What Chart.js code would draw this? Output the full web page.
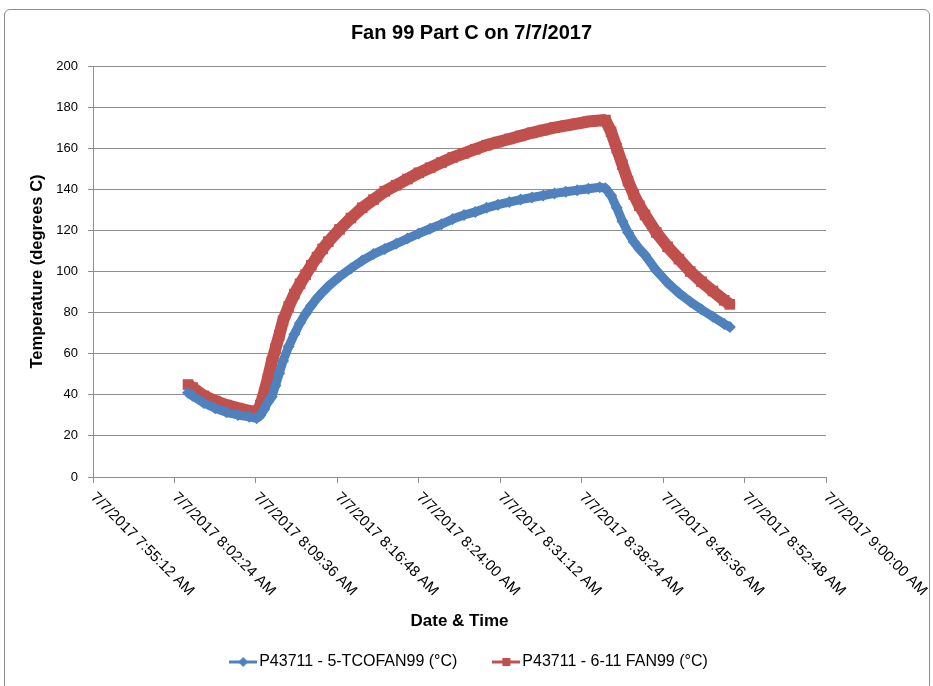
<!DOCTYPE html>
<html>
<head>
<meta charset="utf-8">
<script src="https://cdn.jsdelivr.net/npm/chart.js@4"></script>
<style>
  body { margin: 0; background: #fff; }
  #wrap { position: relative; width: 933px; height: 686px; overflow: hidden; }
  #frame { position: absolute; left: 4px; top: 9px; width: 924px; height: 680px; border: 1px solid #8c8c8c; border-radius: 6px; pointer-events: none; }
</style>
</head>
<body>
<div id="wrap">
  <canvas id="chart" width="933" height="686"></canvas>
  <div id="frame"></div>
</div>
<script>
// readings
const times = ['8:03:36','8:04:00','8:05:00','8:06:00','8:07:00','8:08:00','8:09:00','8:09:40',
  '8:10:00','8:10:20','8:10:40','8:11:00','8:11:20','8:11:40','8:12:00','8:12:30','8:13:00','8:13:30',
  '8:14:00','8:14:30','8:15:00','8:15:30','8:16:00','8:17:00','8:18:00','8:19:00','8:20:00','8:21:00',
  '8:22:00','8:23:00','8:24:00','8:25:00','8:26:00','8:27:00','8:28:00','8:29:00','8:30:00','8:31:00',
  '8:32:00','8:33:00','8:34:00','8:35:00','8:36:00','8:37:00','8:38:00','8:39:00','8:40:00','8:40:30',
  '8:41:00','8:41:30','8:42:00','8:42:30','8:43:00','8:43:30','8:44:00','8:45:00','8:46:00','8:47:00',
  '8:48:00','8:49:00','8:50:00','8:51:00','8:51:30'];

const tcoFan99 = [41, 39.5, 36, 33.5, 31.5, 30.2, 29.3, 28.6,
  30, 33, 36.5, 39, 44.5, 50.5, 56.5, 63.5, 69.5, 75,
  79.5, 83.5, 87, 90, 92.8, 97.5, 101.5, 105.3, 108.5, 111,
  113.5, 116, 118.5, 120.8, 123, 125.5, 127.5, 129, 131, 132.5,
  133.8, 135, 136, 137, 138, 138.8, 139.5, 140.3, 141, 140.5,
  137, 131, 124.5, 119, 114.5, 111, 108, 100.5, 94.5, 89.5,
  85.3, 81.5, 78, 74.5, 73];

const fan99_611 = [45, 43.5, 39.5, 37, 35, 33.5, 32.2, 31.3,
  35, 41, 48, 56, 62.5, 69, 76, 83, 89, 94,
  98.5, 103, 107, 111, 114.5, 120.5, 126, 131, 135, 139,
  142, 145, 148, 150.5, 153, 155.5, 157.5, 159.5, 161.5, 163,
  164.5, 166, 167.5, 168.8, 170, 171, 172, 173, 173.5, 173.7,
  168, 160, 152, 144, 137.5, 132, 127.5, 119, 112, 106,
  100, 95, 90.5, 86, 84];

const seriesNames = ['P43711 - 5-TCOFAN99 (°C)', 'P43711 - 6-11 FAN99 (°C)'];
const xMin = '7:55:12', xMax = '9:00:00', xStep = 432; // 7:12 between ticks
const yTicks = [0, 20, 40, 60, 80, 100, 120, 140, 160, 180, 200];

const BLUE = '#4F81BD', RED = '#C0504D', GRID = '#8e8e8e';
const FONT = "'Liberation Sans', Arial, sans-serif";

function toSec(t) {
  const p = t.split(':').map(Number);
  return p[0] * 3600 + p[1] * 60 + p[2];
}
function fmtTime(s) {
  const h = Math.floor(s / 3600), m = Math.floor(s / 60) % 60, sec = s % 60;
  const hh = h % 12 === 0 ? 12 : h % 12;
  return '7/7/2017 ' + hh + ':' + String(m).padStart(2, '0') + ':' + String(sec).padStart(2, '0') + (h < 12 ? ' AM' : ' PM');
}

// little line+marker images for the legend
function legendIcon(color, shape) {
  const c = document.createElement('canvas');
  c.width = 28; c.height = 12;
  const g = c.getContext('2d');
  g.strokeStyle = color; g.lineWidth = 3;
  g.beginPath(); g.moveTo(0, 6); g.lineTo(28, 6); g.stroke();
  g.fillStyle = color;
  if (shape === 'square') {
    g.fillRect(10, 2, 8, 8);
  } else {
    g.beginPath(); g.moveTo(14, 1); g.lineTo(19, 6); g.lineTo(14, 11); g.lineTo(9, 6); g.closePath(); g.fill();
  }
  return c;
}
const icons = [legendIcon(BLUE, 'diamond'), legendIcon(RED, 'square')];

const xTickLabels = {
  id: 'xTickLabels',
  afterDraw(chart) {
    const sc = chart.scales.x, ctx = chart.ctx;
    ctx.save();
    ctx.font = '15px ' + FONT;
    ctx.fillStyle = '#000';
    ctx.textAlign = 'left';
    ctx.textBaseline = 'middle';
    sc.ticks.forEach(t => {
      const px = sc.getPixelForValue(t.value);
      ctx.save();
      ctx.translate(px, chart.chartArea.bottom + 18);
      ctx.rotate(Math.PI / 4);
      ctx.fillText(fmtTime(t.value), 0, 0);
      ctx.restore();
    });
    ctx.restore();
  }
};

new Chart(document.getElementById('chart').getContext('2d'), {
  type: 'line',
  data: {
    datasets: [{
      label: seriesNames[0],
      data: times.map((t, i) => ({ x: toSec(t), y: tcoFan99[i] })),
      borderColor: BLUE,
      backgroundColor: BLUE,
      borderWidth: 9,
      borderJoinStyle: 'bevel',
      pointStyle: 'rectRot',
      pointRadius: 6,
      pointBorderWidth: 0,
      tension: 0
    }, {
      label: seriesNames[1],
      data: times.map((t, i) => ({ x: toSec(t), y: fan99_611[i] })),
      borderColor: RED,
      backgroundColor: RED,
      borderWidth: 12,
      borderJoinStyle: 'bevel',
      pointStyle: 'rect',
      pointRadius: 7.5,
      pointBorderWidth: 0,
      tension: 0
    }]
  },
  options: {
    responsive: false,
    animation: false,
    devicePixelRatio: 1,
    layout: { padding: { left: 10, right: 0, top: 0, bottom: 6 } },
    plugins: {
      title: {
        display: true,
        text: 'Fan 99 Part C on 7/7/2017',
        color: '#000',
        font: { family: FONT, size: 20, weight: 'bold' },
        padding: { top: 21.5, bottom: 20.5 }
      },
      legend: {
        position: 'bottom',
        labels: {
          color: '#000',
          font: { family: FONT, size: 16 },
          usePointStyle: true,
          pointStyleWidth: 16,
          padding: 41,
          generateLabels(chart) {
            return chart.data.datasets.map((ds, i) => ({
              text: ds.label,
              pointStyle: icons[i],
              fillStyle: ds.borderColor,
              strokeStyle: ds.borderColor,
              lineWidth: 0,
              fontColor: '#000',
              datasetIndex: i
            }));
          }
        }
      },
      tooltip: { enabled: false }
    },
    scales: {
      x: {
        type: 'linear',
        min: toSec(xMin),
        max: toSec(xMax),
        afterFit(sc) { sc.height = 136; },
        ticks: { display: false, stepSize: xStep },
        grid: { drawOnChartArea: false, drawTicks: true, tickLength: 6, color: GRID },
        border: { color: GRID },
        title: {
          display: true,
          text: 'Date & Time',
          color: '#000',
          font: { family: FONT, size: 17, weight: 'bold' },
          padding: { top: 0, bottom: -18.2 }
        }
      },
      y: {
        min: 0,
        max: 200,
        afterFit(sc) { sc.width = 83; },
        afterBuildTicks(sc) { sc.ticks = yTicks.map(v => ({ value: v })); },
        ticks: { color: '#000', font: { family: FONT, size: 13 }, padding: 10 },
        grid: { color: GRID, tickLength: 5 },
        border: { color: GRID },
        title: {
          display: true,
          text: 'Temperature (degrees C)',
          color: '#000',
          font: { family: FONT, size: 16.5, weight: 'bold' },
          padding: { top: 17.1, bottom: 4 }
        }
      },
      // empty right-hand box that keeps the plot's right edge where the original has it
      pad: {
        position: 'right',
        display: true,
        afterFit(sc) { sc.width = 107; },
        ticks: { display: false },
        grid: { display: false },
        border: { display: false }
      }
    }
  },
  plugins: [xTickLabels]
});
</script>
</body>
</html>
